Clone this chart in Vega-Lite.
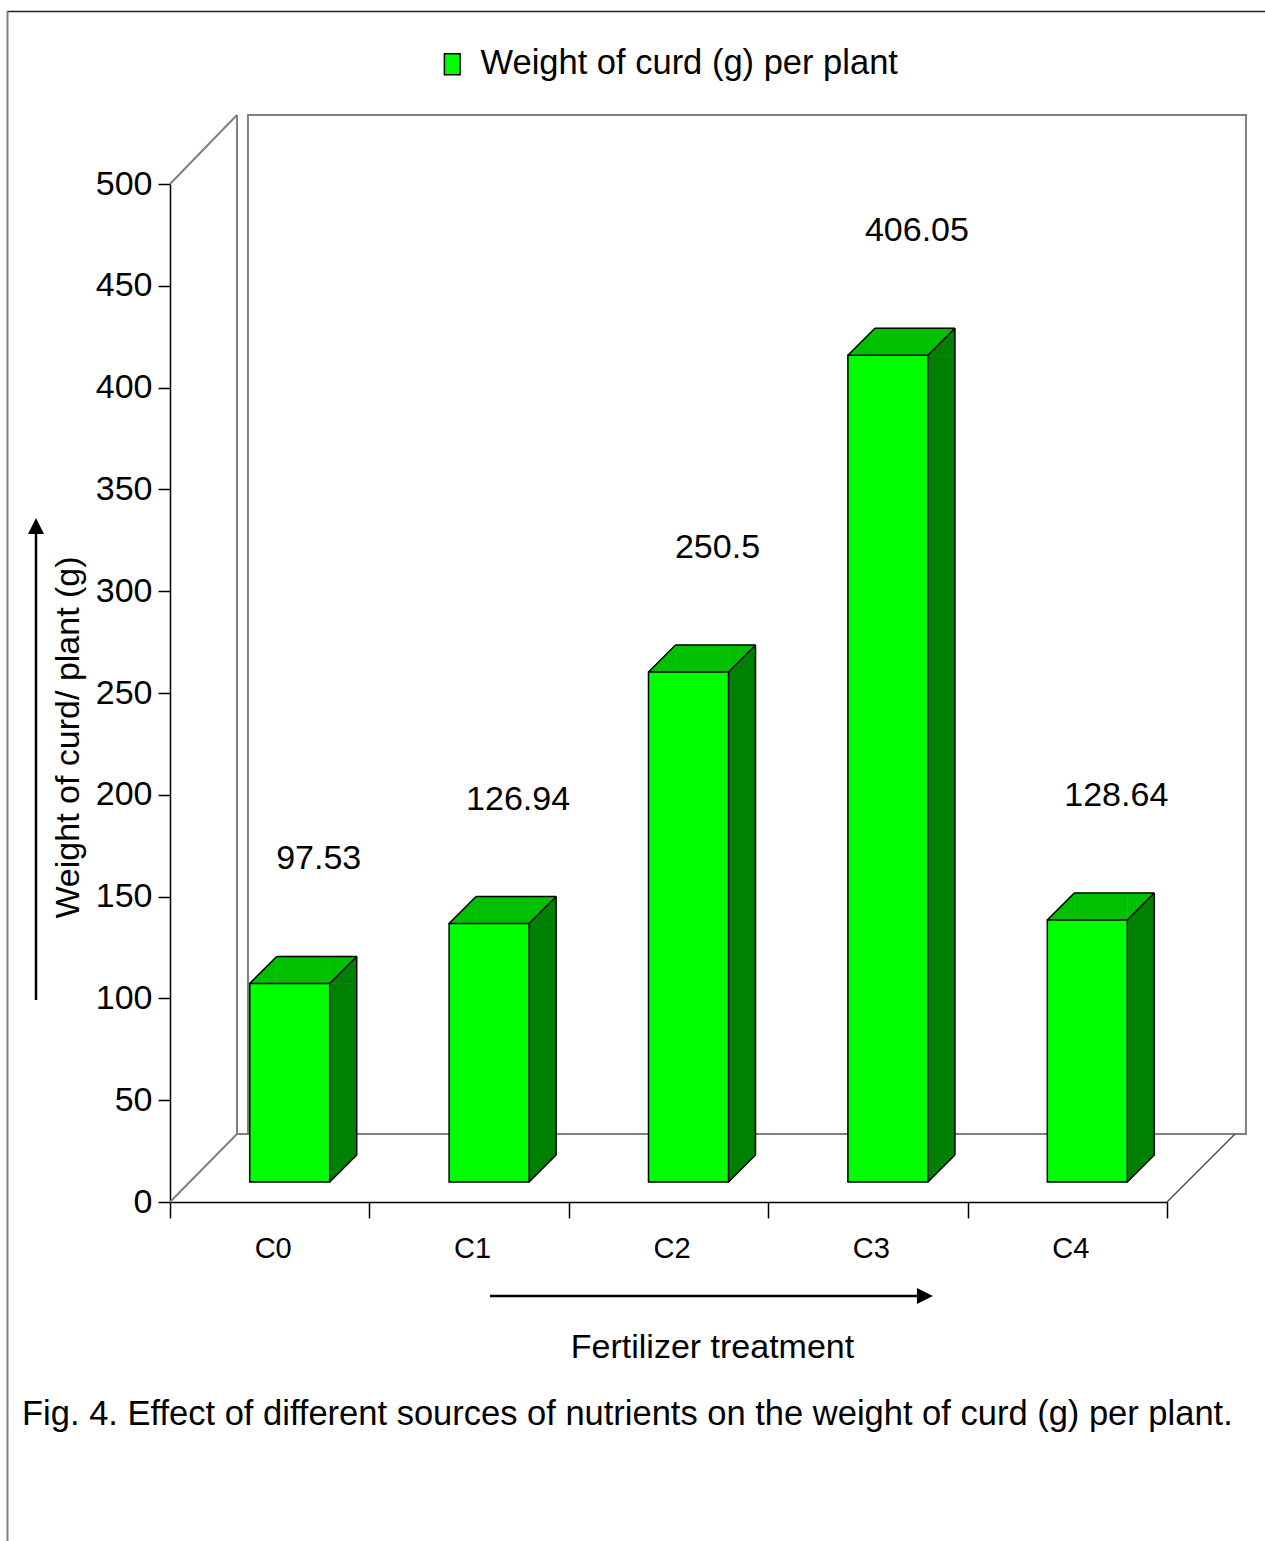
{
  "$schema": "https://vega.github.io/schema/vega-lite/v6.json",
  "width": 997,
  "height": 1018,
  "autosize": {"type": "none"},
  "padding": {"left": 170, "top": 184, "right": 98, "bottom": 339},
  "background": "white",
  "config": {
    "view": {"stroke": null},
    "font": "Liberation Sans",
    "text": {"font": "Liberation Sans"}
  },
  "datasets": {
    "curd": [
      {"treatment": "C0", "weight": 97.53},
      {"treatment": "C1", "weight": 126.94},
      {"treatment": "C2", "weight": 250.5},
      {"treatment": "C3", "weight": 406.05},
      {"treatment": "C4", "weight": 128.64}
    ]
  },
  "resolve": {"scale": {"x": "independent"}, "axis": {"x": "independent"}},
  "layer": [
    {
      "data": {"values": [{}]},
      "encoding": {
        "x": {"datum": 0, "type": "quantitative", "scale": {"domain": [0, 5], "nice": false, "zero": false}, "axis": null}
      },
      "layer": [
        {
          "mark": {"type": "rect", "fill": "white", "stroke": "#808080", "strokeWidth": 2},
          "encoding": {
            "x": {"datum": 0.391, "type": "quantitative"},
            "x2": {"datum": 5.396},
            "y": {"datum": 33.4, "type": "quantitative"},
            "y2": {"datum": 533.9}
          }
        },
        {
          "mark": {"type": "rule", "stroke": "#808080", "strokeWidth": 2},
          "encoding": {
            "x": {"datum": 0.336, "type": "quantitative"},
            "y": {"datum": 33.4, "type": "quantitative"},
            "y2": {"datum": 533.9}
          }
        },
        {
          "mark": {"type": "rule", "stroke": "#808080", "strokeWidth": 2},
          "encoding": {
            "x": {"datum": 0.336, "type": "quantitative"},
            "x2": {"datum": 5.396},
            "y": {"datum": 33.4, "type": "quantitative"}
          }
        },
        {
          "mark": {"type": "rule", "stroke": "#808080", "strokeWidth": 2},
          "encoding": {
            "x": {"datum": 0, "type": "quantitative"},
            "x2": {"datum": 0.336},
            "y": {"datum": 500, "type": "quantitative"},
            "y2": {"datum": 533.9}
          }
        },
        {
          "mark": {"type": "rule", "stroke": "#808080", "strokeWidth": 2},
          "encoding": {
            "x": {"datum": 0, "type": "quantitative"},
            "x2": {"datum": 0.336},
            "y": {"datum": 0, "type": "quantitative"},
            "y2": {"datum": 33.4}
          }
        },
        {
          "mark": {"type": "rule", "stroke": "#404040", "strokeWidth": 1.2},
          "encoding": {
            "x": {"datum": 5, "type": "quantitative"},
            "x2": {"datum": 5.341},
            "y": {"datum": 0, "type": "quantitative"},
            "y2": {"datum": 33.4}
          }
        },
        {
          "mark": {"type": "rule", "stroke": "black", "strokeWidth": 2.5},
          "encoding": {
            "x": {"datum": -0.672, "type": "quantitative"},
            "y": {"datum": 99.2, "type": "quantitative"},
            "y2": {"datum": 328.1}
          }
        },
        {
          "mark": {"type": "point", "shape": "M0,-1L1,1L-1,1Z", "size": 256, "filled": true, "fill": "black", "opacity": 1, "strokeWidth": 0},
          "encoding": {
            "x": {"datum": -0.672, "type": "quantitative"},
            "y": {"datum": 332.0, "type": "quantitative"}
          }
        },
        {
          "mark": {"type": "rule", "stroke": "black", "strokeWidth": 2.5},
          "encoding": {
            "x": {"datum": 1.605, "type": "quantitative"},
            "x2": {"datum": 3.746},
            "y": {"datum": -46.2, "type": "quantitative"}
          }
        },
        {
          "mark": {"type": "point", "shape": "M1,0L-1,-1L-1,1Z", "size": 256, "filled": true, "fill": "black", "opacity": 1, "strokeWidth": 0},
          "encoding": {
            "x": {"datum": 3.786, "type": "quantitative"},
            "y": {"datum": -46.2, "type": "quantitative"}
          }
        },
        {
          "mark": {"type": "rule", "stroke": "#222222", "strokeWidth": 1.5},
          "encoding": {
            "x": {"datum": -0.817, "type": "quantitative"},
            "x2": {"datum": 5.6},
            "y": {"datum": 584.7, "type": "quantitative"}
          }
        },
        {
          "mark": {"type": "rule", "stroke": "#808080", "strokeWidth": 2},
          "encoding": {
            "x": {"datum": -0.815, "type": "quantitative"},
            "y": {"datum": 584.7, "type": "quantitative"},
            "y2": {"datum": -166.5}
          }
        },
        {
          "mark": {"type": "text", "align": "left", "baseline": "alphabetic", "font": "Liberation Sans", "fontSize": 34.5, "color": "black"},
          "encoding": {
            "x": {"datum": -0.742, "type": "quantitative"},
            "y": {"datum": -109.5, "type": "quantitative"},
            "text": {"value": "Fig. 4. Effect of different sources of nutrients on the weight of curd (g) per plant."}
          }
        }
      ]
    },
    {
      "data": {"name": "curd"},
      "encoding": {
        "x": {
          "field": "treatment",
          "type": "nominal",
          "title": "Fertilizer treatment",
          "scale": {"paddingInner": 0, "paddingOuter": 0},
          "axis": {
            "tickBand": "extent",
            "tickSize": 16,
            "tickColor": "black",
            "tickWidth": 1.5,
            "domainColor": "black",
            "domainWidth": 1.5,
            "labelAngle": 0,
            "labelFont": "Liberation Sans",
            "labelFontSize": 29,
            "labelColor": "black",
            "labelPadding": 16,
            "labelOffset": 3,
            "titleFont": "Liberation Sans",
            "titleFontSize": 34,
            "titleFontWeight": "normal",
            "titleColor": "black",
            "titleX": 542,
            "titleY": 155,
            "titleAlign": "center",
            "titleBaseline": "alphabetic"
          }
        },
        "y": {
          "field": "weight",
          "type": "quantitative",
          "title": "Weight of curd/ plant (g)",
          "scale": {"domain": [0, 500], "nice": false, "zero": true},
          "axis": {
            "values": [0, 50, 100, 150, 200, 250, 300, 350, 400, 450, 500],
            "grid": false,
            "tickSize": 12,
            "tickColor": "black",
            "tickWidth": 1.5,
            "domainColor": "black",
            "domainWidth": 1.5,
            "labelFont": "Liberation Sans",
            "labelFontSize": 34,
            "labelColor": "black",
            "labelPadding": 6,
            "titleFont": "Liberation Sans",
            "titleFontSize": 34,
            "titleFontWeight": "normal",
            "titleColor": "black",
            "titleAngle": 270,
            "titleX": -92,
            "titleY": 553,
            "titleAlign": "center",
            "titleBaseline": "alphabetic"
          }
        }
      },
      "layer": [
        {
          "mark": {"type": "bar", "width": 27, "xOffset": 73.5, "yOffset": -20, "y2Offset": -47, "fill": "#008000", "stroke": "#008000", "strokeWidth": 0.6},
          "encoding": {"y2": {"datum": 0}}
        },
        {
          "mark": {"type": "point", "shape": "M-1,1L1,1L1,-1Z", "size": 729, "filled": true, "fill": "#008000", "opacity": 1, "stroke": "#008000", "strokeWidth": 0.6, "xOffset": 73.5, "yOffset": -33.5}
        },
        {
          "mark": {"type": "point", "shape": "M-1,-1L1,-1L-1,1Z", "size": 729, "filled": true, "fill": "#008000", "opacity": 1, "stroke": "#008000", "strokeWidth": 0.6, "xOffset": 73.5, "yOffset": -33.5},
          "encoding": {"y": {"datum": 0, "type": "quantitative"}}
        },
        {
          "mark": {"type": "bar", "width": 53, "xOffset": 33.5, "yOffset": -47, "y2Offset": -20, "fill": "#00C000", "stroke": "#00C000", "strokeWidth": 0.6},
          "encoding": {"y2": {"field": "weight"}}
        },
        {
          "mark": {"type": "point", "shape": "M-1,1L1,1L1,-1Z", "size": 729, "filled": true, "fill": "#00C000", "opacity": 1, "stroke": "#00C000", "strokeWidth": 0.6, "xOffset": -6.5, "yOffset": -33.5}
        },
        {
          "mark": {"type": "point", "shape": "M-1,-1L1,-1L-1,1Z", "size": 729, "filled": true, "fill": "#00C000", "opacity": 1, "stroke": "#00C000", "strokeWidth": 0.6, "xOffset": 73.5, "yOffset": -33.5}
        },
        {
          "mark": {"type": "bar", "width": 80, "xOffset": 20, "yOffset": -20, "y2Offset": -20, "stroke": "black", "strokeWidth": 1.5},
          "encoding": {
            "y2": {"datum": 0},
            "fill": {
              "datum": "Weight of curd (g) per plant",
              "type": "nominal",
              "scale": {"range": ["#00FF00"]},
              "legend": {
                "orient": "none",
                "legendX": 265,
                "legendY": -137,
                "title": null,
                "padding": 0,
                "symbolType": "M-0.75,-1L0.75,-1L0.75,1L-0.75,1Z",
                "symbolSize": 438,
                "symbolStrokeColor": "black",
                "symbolStrokeWidth": 1.5,
                "labelFont": "Liberation Sans",
                "labelFontSize": 34.5,
                "labelColor": "black",
                "labelLimit": 1000,
                "labelOffset": 11
              }
            }
          }
        },
        {
          "mark": {"type": "rule", "stroke": "black", "strokeWidth": 1.5, "xOffset": 7, "x2Offset": 87, "yOffset": -47},
          "encoding": {"x2": {"field": "treatment"}}
        },
        {
          "mark": {"type": "rule", "stroke": "black", "strokeWidth": 1.5, "xOffset": -20, "x2Offset": 7, "yOffset": -20, "y2Offset": -47},
          "encoding": {"x2": {"field": "treatment"}, "y2": {"field": "weight"}}
        },
        {
          "mark": {"type": "rule", "stroke": "black", "strokeWidth": 1.5, "xOffset": 60, "x2Offset": 87, "yOffset": -20, "y2Offset": -47},
          "encoding": {"x2": {"field": "treatment"}, "y2": {"field": "weight"}}
        },
        {
          "mark": {"type": "rule", "stroke": "black", "strokeWidth": 1.5, "xOffset": 87, "yOffset": -47, "y2Offset": -47},
          "encoding": {"y2": {"datum": 0}}
        },
        {
          "mark": {"type": "rule", "stroke": "black", "strokeWidth": 1.5, "xOffset": 60, "x2Offset": 87, "yOffset": -20, "y2Offset": -47},
          "encoding": {
            "x2": {"field": "treatment"},
            "y": {"datum": 0, "type": "quantitative"},
            "y2": {"datum": 0}
          }
        },
        {
          "mark": {"type": "text", "align": "center", "baseline": "alphabetic", "dx": 49, "dy": -134, "font": "Liberation Sans", "fontSize": 34, "color": "black"},
          "encoding": {
            "text": {"field": "weight", "type": "quantitative", "format": "~f"}
          }
        }
      ]
    }
  ]
}
